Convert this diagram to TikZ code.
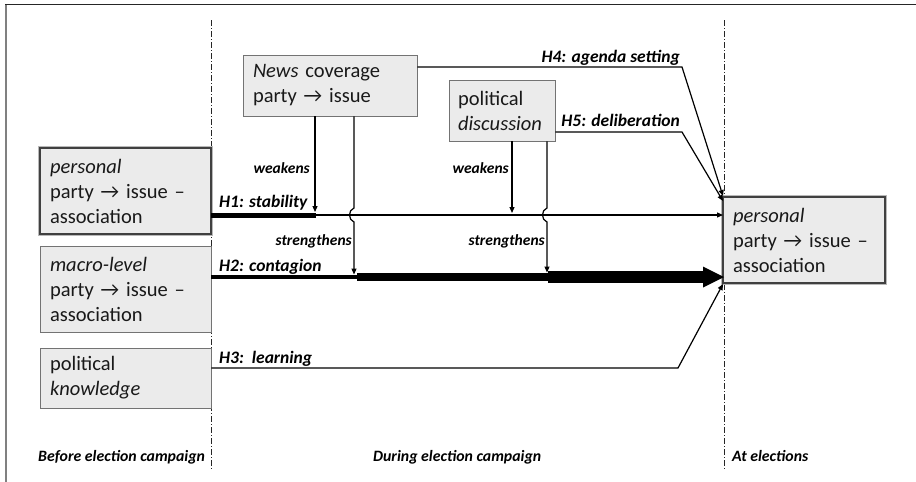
\documentclass[tikz,border=0pt]{standalone}
\usepackage{fontspec}
\setmainfont{Carlito}
\usetikzlibrary{arrows.meta}
\begin{document}
\begin{tikzpicture}[x=1pt,y=-1pt,
  box/.style={draw=black!55, line width=0.9pt, fill=black!8, inner sep=0pt, align=left,
    font=\fontsize{20.5}{25}\selectfont, text=black!90},
  pbox/.style={box, draw=black!75, line width=1.6pt, preaction={draw=black!28, line width=4.5pt}},
  lab/.style={font=\bfseries\itshape\fontsize{17.5}{20}\selectfont, inner sep=0pt, text=black},
  mlab/.style={font=\bfseries\itshape\fontsize{15.5}{18}\selectfont, inner sep=0pt, text=black},
  plab/.style={font=\bfseries\itshape\fontsize{15.8}{18}\selectfont, inner sep=0pt, text=black},
  tip/.style={-{Triangle[length=6pt,width=5pt]}},
  conn/.style={draw=black, line width=1.2pt},
  phase/.style={draw=black!85, line width=1pt, dash pattern=on 6pt off 2pt on 1pt off 2pt}
]
\useasboundingbox (0,0) rectangle (916,482);
% frame
\draw[black!50, line width=2pt] (5.5,482) -- (5.5,4);
\draw[black!85, line width=1.8pt] (5,4.5) -- (916,4.5);
% phase lines
\draw[phase] (211,20) -- (211,470);
\draw[phase] (724,20) -- (724,470);
% boxes
\node[pbox, minimum width=171pt, minimum height=86pt, text width=151pt] (pers1) at (125.5,191)
  {\textit{personal}\\party → issue –\\association};
\node[box, minimum width=171pt, minimum height=86pt, text width=151pt] (macro) at (125.5,289)
  {\textit{macro-level}\\party → issue –\\association};
\node[box, minimum width=171pt, minimum height=60pt, text width=151pt] (know) at (125.5,378)
  {political\\\textit{knowledge}};
\node[box, minimum width=174pt, minimum height=61pt, text width=154pt] (news) at (330,85.5)
  {\textit{News} coverage\\party → issue};
\node[box, minimum width=106pt, minimum height=61pt, text width=88pt] (disc) at (502,110.5)
  {political\\\textit{discussion}};
\node[pbox, minimum width=162pt, minimum height=86pt, text width=142pt] (pers2) at (804,240)
  {\textit{personal}\\party → issue –\\association};
% coordinates
\coordinate (a0) at (211,215);
\coordinate (a1) at (316,215);
\coordinate (a2) at (512,215);
\coordinate (a3) at (723,215);
\coordinate (b0) at (211,277);
\coordinate (b1) at (357,277);
\coordinate (b2) at (548,277);
\coordinate (b3) at (705,277);
\coordinate (b4) at (724,277);
\coordinate (c1) at (678,368);
\coordinate (c2) at (723,284);
\coordinate (d1) at (682,67);
\coordinate (d2) at (723,196);
\coordinate (e1) at (682,132);
\coordinate (e2) at (723,201);
% H1
\draw[line width=5pt] (a0) -- (a1);
\draw[line width=2.6pt] (a1) -- (a2);
\draw[conn, tip] (a2) -- (a3);
% H2
\draw[line width=4pt] (b0) -- (b1);
\draw[line width=8pt] (b1) -- (b2);
\draw[line width=11.5pt] (b2) -- (b3);
\fill (703,266.5) -- (b4) -- (703,287.5) -- cycle;
% H3
\draw[conn, tip] (know.east |- c1) -- (c1) -- (c2);
% H4, H5
\draw[conn, tip] (news.east |- d1) -- (d1) -- (d2);
\draw[conn, tip] (disc.east |- e1) -- (e1) -- (e2);
% modifiers
\draw[conn, tip] (news.south -| 315,0) -- (315,212);
\draw[conn, tip] (news.south -| 354,0) -- (354,208) .. controls (348,210) and (348,220) .. (354,222) -- (354,274.5);
\draw[conn, tip] (disc.south -| 512,0) -- (512,213);
\draw[conn, tip] (disc.south -| 547,0) -- (547,208) .. controls (541,210) and (541,220) .. (547,222) -- (547,272.5);
% labels
\node[lab, anchor=base west] (l1) at (219,207.5) {H1: stability};
\node[lab, anchor=base west] (l2) at (219,271) {H2: contagion};
\node[lab, anchor=base west] (l3) at (219,363) {H3:\ \ learning};
\node[lab, anchor=base east] (l4) at (680,62) {H4: agenda setting};
\node[lab, anchor=base east] (l5) at (680,126) {H5: deliberation};
\node[mlab, anchor=east] (m1) at (310,168) {weakens};
\node[mlab, anchor=east] (m2) at (352,241) {strengthens};
\node[mlab, anchor=east] (m3) at (509,168) {weakens};
\node[mlab, anchor=east] (m4) at (545,241) {strengthens};
\node[plab, anchor=base west] (p1) at (38,461) {Before election campaign};
\node[plab, anchor=base west] (p2) at (373,461) {During election campaign};
\node[plab, anchor=base west] (p3) at (732,461) {At elections};
\end{tikzpicture}
\end{document}
